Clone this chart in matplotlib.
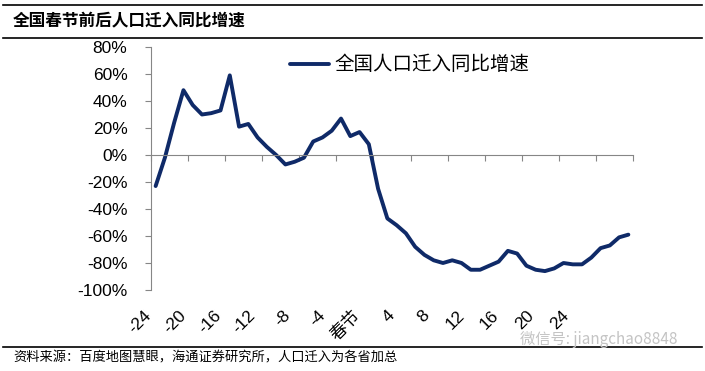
import numpy as np
import matplotlib
matplotlib.use("Agg")
from matplotlib import pyplot as plt
from matplotlib.lines import Line2D

plt.rcParams['font.family'] = ['Liberation Sans', 'Noto Sans CJK SC', 'DejaVu Sans']

# days relative to Spring Festival and YoY growth of population inflow (%)
days = np.arange(-24, 28)
growth = [-23, -2, 24, 48, 37, 30, 31, 33, 59, 21, 23, 13, 6, 0, -7, -5, -2, 10, 13, 18,
          27, 14, 17, 8, -25, -47, -52, -58, -68, -74, -78, -80, -78, -80, -85, -85, -82, -79,
          -71, -73, -82, -85, -86, -84, -80, -81, -81, -76, -69, -67, -61, -59]
xlabels = ["-24", "-20", "-16", "-12", "-8", "-4", "春节", "4", "8", "12", "16", "20", "24"]
yticks = np.arange(-100, 81, 20)

title = "全国春节前后人口迁入同比增速"
series_name = "全国人口迁入同比增速"
source = "资料来源：百度地图慧眼，海通证券研究所，人口迁入为各省加总"

W, H = 705, 371
fig = plt.figure(figsize=(W / 100, H / 100), dpi=100)
ax = fig.add_axes([151 / W, 1 - 290 / H, 482 / W, 243 / H])

navy = '#0f2a68'
grey = '#868686'
ax.plot(days, growth, color=navy, lw=2.8, solid_joinstyle='round', solid_capstyle='round',
        label=series_name)

ax.set_xlim(-24.5, 27.5)
ax.set_ylim(-100, 80)
ax.set_yticks(yticks)
ax.set_yticklabels([f"{v}%" for v in yticks], fontsize=12.5)
ax.tick_params(axis='y', direction='out', length=4, width=0.8, color=grey, pad=13)

# category axis crossing at 0, ticks between every 4 days
ax.spines['bottom'].set_position(('data', 0))
ax.set_xticks(np.arange(-24.5, 28, 4))
ax.set_xticklabels([])
ax.tick_params(axis='x', direction='out', length=4, width=0.8, color=grey)
for s in ['top', 'right']:
    ax.spines[s].set_visible(False)
for s in ['left', 'bottom']:
    ax.spines[s].set_color(grey)
    ax.spines[s].set_linewidth(0.8)

# rotated category labels placed low, below the plot
for i, lab in enumerate(xlabels):
    ax.text(-0.004 + i * 0.0721, -0.095, lab, transform=ax.transAxes, rotation=45,
            rotation_mode='anchor', ha='right', va='center', fontsize=12.5)

leg = ax.legend(loc='center left', bbox_to_anchor=(290 / W, 1 - 65 / H),
                bbox_transform=fig.transFigure, frameon=False, borderpad=0,
                borderaxespad=0, handlelength=2.0, handletextpad=0.3,
                prop={'family': 'Noto Sans CJK SC', 'size': 14})

# header / footer decorations
for yy in [5, 37.5, 346.5]:
    fig.add_artist(Line2D([3 / W, 702 / W], [1 - yy / H] * 2, color='black', lw=1.2))
fig.text(13 / W, 1 - 20.5 / H, title, fontsize=12, fontweight='bold',
         family='Noto Sans CJK SC', va='center', ha='left')
fig.text(13 / W, 1 - 358 / H, source, fontsize=9.5, family='Noto Sans CJK SC',
         va='center', ha='left')
fig.text(520 / W, 1 - 340 / H, "微信号: jiangchao8848", fontsize=11, color='#c4c4c4',
         family=['Noto Sans CJK SC', 'DejaVu Sans'], va='center', ha='left')

fig.savefig("out.png", dpi=100)
